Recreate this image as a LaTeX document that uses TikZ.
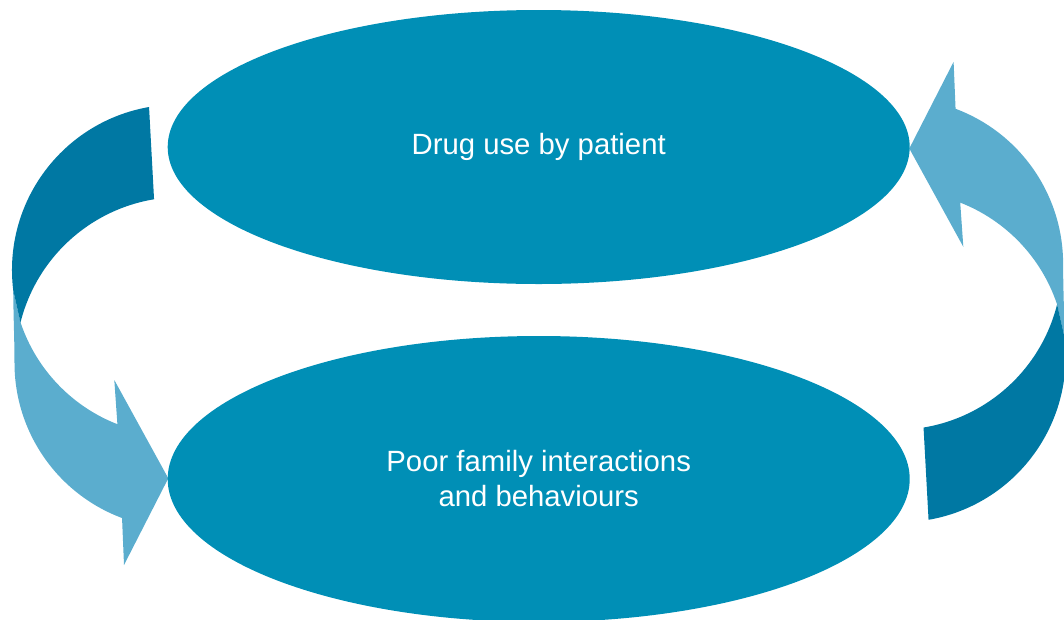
\documentclass[tikz,border=0pt]{standalone}
\usepackage{fontspec}
\setmainfont{Liberation Sans}
\usetikzlibrary{shapes.geometric}
\definecolor{ellcol}{HTML}{008FB6}
\definecolor{darkcol}{HTML}{0078A3}
\definecolor{lightcol}{HTML}{5BADCE}
\newcommand\cyclearrowpair{%
  \fill[lightpart] (13.2,290.2) .. controls (13.5,320) and (14.5,340) .. (14.5,363)
    arc[start angle=180, end angle=110.5, radius=165.5]
    -- (124,565) -- (168.3,478.3) -- (114.3,380) -- (117.4,424.2)
    arc[start angle=111.3, end angle=161.5, radius=165.5] -- cycle;
  \fill[darkpart] (149.05,107) arc[start angle=260.1, end angle=173, radius=165.5]
    -- (20.5,322.5) arc[start angle=194, end angle=260.6, radius=165.5] -- cycle;
}
\begin{document}
\begin{tikzpicture}[x=1pt,y=-1pt,
  lightpart/.style={fill=lightcol},
  darkpart/.style={fill=darkcol},
  bubble/.style={ellipse, fill=ellcol, draw=none, inner sep=0pt,
    minimum width=742pt, text=white, align=center,
    font=\fontsize{29.3}{35}\selectfont}]
\useasboundingbox (0,0) rectangle (1064,619);
\begin{scope}
\cyclearrowpair
\end{scope}
\begin{scope}[rotate around={180:(538.8,313.4)}]
\cyclearrowpair
\end{scope}
\node[bubble, minimum height=274pt] (drug) at (538.7,147) {Drug use by patient};
\node[bubble, minimum height=286pt] (family) at (538.7,479) {Poor family interactions\\and behaviours};
\end{tikzpicture}
\end{document}
